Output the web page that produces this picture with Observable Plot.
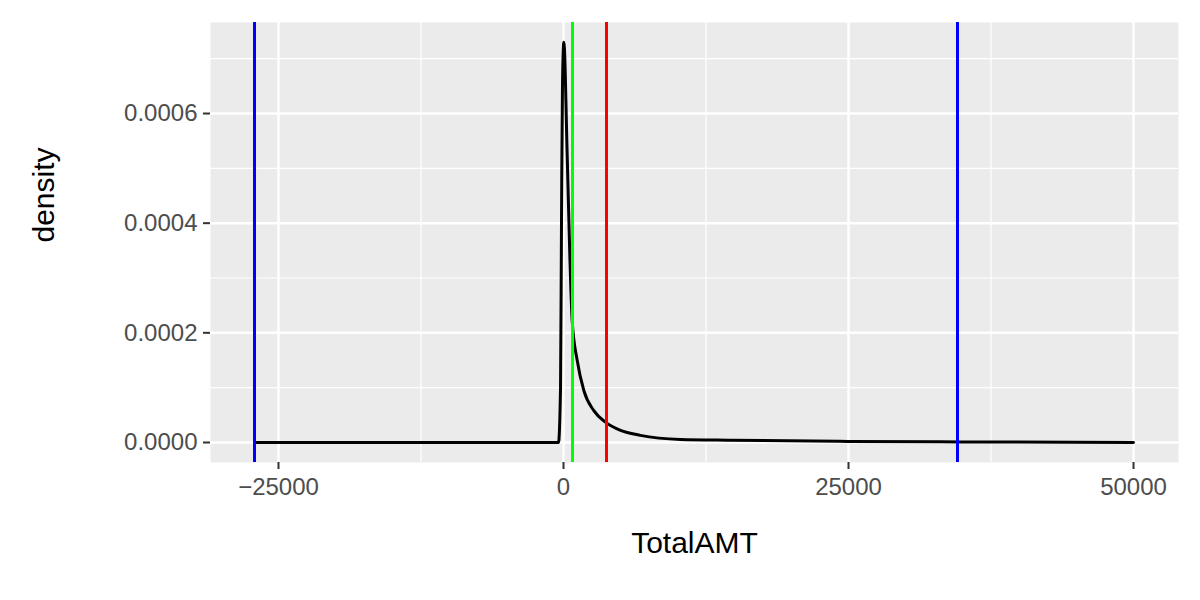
<!DOCTYPE html>
<html>
<head>
<meta charset="utf-8">
<script src="https://cdn.jsdelivr.net/npm/d3@7"></script>
<script src="https://cdn.jsdelivr.net/npm/@observablehq/plot@0.6"></script>
<style>body{margin:0;background:#fff;font-family:"Liberation Sans",Arial,sans-serif}</style>
</head>
<body>
<div id="chart"></div>
<script>
// density curve
const amt = [-27105, -5000, -440, -260, -175, -90, 30, 320, 550, 760, 1200, 1780, 2660, 3680, 5000, 6750, 10260, 14650, 25000, 35000, 50000]
const dens = [0, 0, 0, 0.0001, 0.000405, 0.00065, 0.00073, 0.000527, 0.000345, 0.000222, 0.00015, 0.000095, 0.000058, 0.000037, 0.000022, 0.000013, 0.0000055, 0.000004, 0.000002, 0.000001, 0]
const data = amt.map((x, i) => ({x, y: dens[i]}))

const blueLines = [-27105, 34561]
const greenLine = [789]
const redLine = [3772]

const xMajor = [-25000, 0, 25000, 50000]
const xMinor = [-12500, 12500, 37500]
const yMajor = [0, 0.0002, 0.0004, 0.0006]
const yMinor = [0.0001, 0.0003, 0.0005, 0.0007]

const chart = Plot.plot({
  width: 1200,
  height: 600,
  marginLeft: 210,
  marginRight: 22,
  marginTop: 22,
  marginBottom: 138,
  style: {fontFamily: '"Liberation Sans", Arial, sans-serif', fontSize: '24px'},
  x: {domain: [-30965, 53947]},
  y: {domain: [-0.0000365, 0.000766]},
  marks: [
    Plot.frame({fill: '#EBEBEB', stroke: null}),
    Plot.ruleX(xMinor, {stroke: 'white', strokeWidth: 1.2}),
    Plot.ruleY(yMinor, {stroke: 'white', strokeWidth: 1.2}),
    Plot.ruleX(xMajor, {stroke: 'white', strokeWidth: 2.5}),
    Plot.ruleY(yMajor, {stroke: 'white', strokeWidth: 2.5}),
    Plot.line(data, {x: 'x', y: 'y', stroke: 'black', strokeWidth: 3, curve: 'monotone-x'}),
    Plot.ruleX(blueLines, {stroke: 'blue', strokeWidth: 3}),
    Plot.ruleX(greenLine, {stroke: '#00FF00', strokeWidth: 3}),
    Plot.ruleX(redLine, {stroke: 'red', strokeWidth: 3}),
    Plot.axisX(xMajor, {tickSize: 7, tickPadding: 8, fontSize: 24, color: '#4D4D4D', stroke: '#333', strokeWidth: 2, label: null, tickFormat: d3.format('d')}),
    Plot.axisY(yMajor, {tickSize: 7, tickPadding: 6, fontSize: 24, color: '#4D4D4D', stroke: '#333', strokeWidth: 2, label: null, tickFormat: d3.format('.4f')}),
    Plot.text(['TotalAMT'], {frameAnchor: 'bottom', dy: 90, fontSize: 30, fill: 'black'}),
    Plot.text(['density'], {frameAnchor: 'left', dx: -166, rotate: -90, fontSize: 30, fill: 'black'}),
  ],
})
d3.select('#chart').append(() => chart)
</script>
</body>
</html>
